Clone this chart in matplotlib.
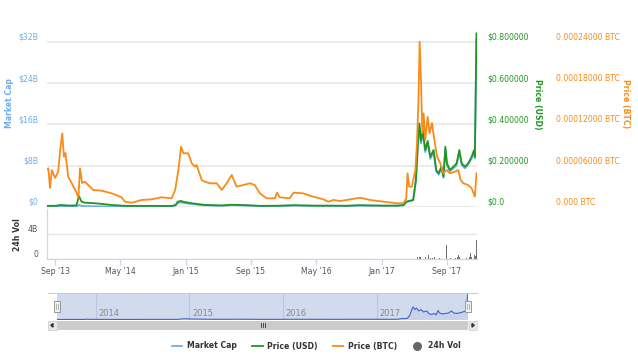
import matplotlib
matplotlib.use("Agg")
import matplotlib.pyplot as plt
from matplotlib.lines import Line2D
from matplotlib.patches import Rectangle, Polygon
import pandas as pd

# ---------------- data ----------------
usd_dates = ['2013-08-04', '2013-09-01', '2013-09-25', '2013-10-20', '2013-11-20', '2013-11-29',
             '2013-12-09', '2013-12-21', '2014-01-29', '2014-03-01', '2014-03-31', '2014-05-20',
             '2014-07-20', '2014-09-01', '2014-11-10', '2014-11-25', '2014-12-03', '2014-12-15',
             '2014-12-25', '2015-01-24', '2015-02-11', '2015-03-14', '2015-05-16', '2015-06-22',
             '2015-08-29', '2015-10-05', '2015-12-08', '2016-02-08', '2016-04-21', '2016-06-16',
             '2016-08-24', '2016-10-13', '2016-11-19', '2017-01-08', '2017-03-01', '2017-03-24',
             '2017-04-04', '2017-04-29', '2017-05-09', '2017-05-17', '2017-05-22', '2017-05-28',
             '2017-06-04', '2017-06-13', '2017-06-22', '2017-07-02', '2017-07-14', '2017-07-24',
             '2017-08-02', '2017-08-12', '2017-08-20', '2017-08-27', '2017-09-02', '2017-09-13',
             '2017-09-26', '2017-10-08', '2017-10-18', '2017-10-27', '2017-11-08', '2017-11-20',
             '2017-12-03', '2017-12-12', '2017-12-15', '2017-12-21']
price_usd = [0.0055, 0.0058, 0.0097, 0.0070, 0.0080, 0.053,
             0.026, 0.021, 0.018, 0.014, 0.0097, 0.0055,
             0.0052, 0.0055, 0.0050, 0.010, 0.026, 0.029,
             0.025, 0.018, 0.015, 0.010, 0.0075, 0.011,
             0.0080, 0.0055, 0.0060, 0.0085, 0.0065, 0.0065,
             0.0060, 0.0085, 0.0075, 0.0065, 0.0065, 0.0090,
             0.026, 0.034, 0.13, 0.32, 0.405, 0.32,
             0.37, 0.276, 0.32, 0.243, 0.276, 0.179,
             0.163, 0.195, 0.147, 0.292, 0.211, 0.179,
             0.195, 0.211, 0.276, 0.211, 0.195, 0.211,
             0.243, 0.276, 0.243, 0.84]
market_cap_b = [0.043, 0.045, 0.076, 0.055, 0.062, 0.41,
                0.20, 0.16, 0.14, 0.11, 0.076, 0.043,
                0.16, 0.17, 0.155, 0.31, 0.80, 0.90,
                0.78, 0.57, 0.47, 0.32, 0.24, 0.35,
                0.26, 0.18, 0.20, 0.29, 0.23, 0.23,
                0.21, 0.30, 0.27, 0.24, 0.24, 0.34,
                0.99, 1.30, 4.98, 12.3, 15.6, 12.3,
                14.2, 10.6, 12.3, 9.3, 10.6, 6.9,
                6.25, 7.5, 5.65, 11.2, 8.1, 6.9,
                7.5, 8.1, 10.6, 8.1, 7.5, 8.2,
                9.4, 10.7, 9.4, 32.5]

btc_dates = ['2013-08-04', '2013-08-07', '2013-08-13', '2013-08-20', '2013-09-01', '2013-09-13',
             '2013-09-20', '2013-09-28', '2013-10-04', '2013-10-10', '2013-10-20', '2013-11-02',
             '2013-11-21', '2013-11-27', '2013-12-03', '2013-12-11', '2013-12-21', '2014-01-03',
             '2014-01-21', '2014-02-22', '2014-03-31', '2014-05-07', '2014-05-20', '2014-06-14',
             '2014-07-21', '2014-08-28', '2014-10-04', '2014-11-10', '2014-11-23', '2014-12-05',
             '2014-12-15', '2014-12-24', '2015-01-11', '2015-01-24', '2015-02-05', '2015-02-11',
             '2015-03-02', '2015-03-14', '2015-04-02', '2015-04-27', '2015-05-16', '2015-06-03',
             '2015-06-22', '2015-07-10', '2015-08-04', '2015-08-29', '2015-09-16', '2015-10-05',
             '2015-10-30', '2015-11-30', '2015-12-08', '2015-12-18', '2016-01-24', '2016-02-08',
             '2016-03-14', '2016-04-21', '2016-05-28', '2016-06-16', '2016-07-05', '2016-07-30',
             '2016-08-24', '2016-10-13', '2016-11-19', '2017-01-08', '2017-02-27', '2017-03-24',
             '2017-04-03', '2017-04-08', '2017-04-14', '2017-04-24', '2017-05-07', '2017-05-13',
             '2017-05-19', '2017-05-23', '2017-05-28', '2017-06-02', '2017-06-07', '2017-06-13',
             '2017-06-22', '2017-06-29', '2017-07-08', '2017-07-17', '2017-07-27', '2017-08-08',
             '2017-08-20', '2017-09-01', '2017-09-13', '2017-10-02', '2017-10-14', '2017-10-23',
             '2017-11-02', '2017-11-20', '2017-12-03', '2017-12-15', '2017-12-21']
price_btc = [5.5e-5, 5.62e-5, 2.76e-5, 5.37e-5, 4.21e-5, 5.13e-5,
             8.28e-5, 1.07e-4, 7.30e-5, 7.84e-5, 4.40e-5, 3.48e-5,
             2.03e-5, 1.31e-5, 5.62e-5, 3.48e-5, 3.67e-5, 3.19e-5,
             2.47e-5, 2.37e-5, 1.99e-5, 1.41e-5, 7.7e-6, 6.2e-6,
             1.02e-5, 1.12e-5, 1.41e-5, 1.26e-5, 2.47e-5, 5.37e-5,
             8.76e-5, 7.80e-5, 7.80e-5, 6.35e-5, 5.85e-5, 6.10e-5,
             3.92e-5, 3.67e-5, 3.44e-5, 3.44e-5, 2.47e-5, 3.44e-5,
             4.65e-5, 2.95e-5, 3.19e-5, 3.44e-5, 3.19e-5, 1.99e-5,
             1.26e-5, 1.26e-5, 2.08e-5, 1.41e-5, 1.26e-5, 2.08e-5,
             1.99e-5, 1.50e-5, 1.12e-5, 7.7e-6, 1.02e-5, 8.7e-6,
             1.02e-5, 1.35e-5, 1.02e-5, 7.7e-6, 5.4e-6, 5.4e-6,
             1.26e-5, 4.89e-5, 2.95e-5, 2.95e-5, 5.37e-5, 9.25e-5,
             1.60e-4, 2.40e-4, 1.84e-4, 1.07e-4, 1.36e-4, 9.73e-5,
             1.31e-4, 1.07e-4, 1.22e-4, 9.73e-5, 7.30e-5, 6.35e-5,
             4.89e-5, 5.37e-5, 4.89e-5, 5.13e-5, 5.37e-5, 3.92e-5,
             3.44e-5, 3.19e-5, 2.72e-5, 1.50e-5, 4.89e-5]

vol_dates = ['2017-04-03', '2017-04-10', '2017-04-24', '2017-05-10', '2017-05-16', '2017-05-22',
             '2017-05-27', '2017-06-01', '2017-06-08', '2017-06-15', '2017-06-24', '2017-07-02',
             '2017-07-10', '2017-07-18', '2017-07-27', '2017-08-05', '2017-08-15', '2017-08-26',
             '2017-09-01', '2017-09-06', '2017-09-14', '2017-09-24', '2017-10-04', '2017-10-10',
             '2017-10-14', '2017-10-18', '2017-10-24', '2017-11-05', '2017-11-15', '2017-11-25',
             '2017-11-29', '2017-12-03', '2017-12-08', '2017-12-13', '2017-12-18', '2017-12-21']
vol_b = [0.05, 0.08, 0.06, 0.15, 0.35, 0.25,
         0.30, 0.45, 0.20, 0.25, 0.60, 0.20,
         0.15, 0.25, 0.10, 0.12, 0.20, 0.35,
         2.20, 0.35, 0.20, 0.10, 0.15, 0.30,
         0.60, 0.40, 0.60, 0.15, 0.20, 0.30,
         0.90, 0.35, 0.25, 0.60, 0.50, 3.00]

cap_ticks = [0, 8, 16, 24, 32]
cap_labels = ['$0', '$8B', '$16B', '$24B', '$32B']
usd_ticks = [0, 0.2, 0.4, 0.6, 0.8]
usd_labels = ['$0.0', '$0.200000', '$0.400000', '$0.600000', '$0.800000']
btc_ticks = [0, 0.00006, 0.00012, 0.00018, 0.00024]
btc_labels = ['0.000 BTC', '0.00006000 BTC', '0.00012000 BTC', '0.00018000 BTC', '0.00024000 BTC']
vol_ticks = [0, 4]
vol_labels = ['0', '4B']
x_tick_dates = ['2013-09-01', '2014-05-01', '2015-01-01', '2015-09-01', '2016-05-01', '2017-01-01', '2017-09-01']
x_tick_labels = ["Sep '13", "May '14", "Jan '15", "Sep '15", "May '16", "Jan '17", "Sep '17"]
nav_years = [2014, 2015, 2016, 2017]

# ---------------- style ----------------
C_CAP = '#6fadec'
C_USD = '#1f961f'
C_BTC = '#f98b1a'
C_VOL = '#6f6f6f'
C_GRID = '#e6e6e6'
C_AXIS = '#ccd6eb'
FS = 5.6

plt.rcParams['font.family'] = ['DejaVu Sans']

W, H = 638, 358
fig = plt.figure(figsize=(W / 100, H / 100), dpi=100)


def px(l, t, r, b):
    return [l / W, 1 - b / H, (r - l) / W, (b - t) / H]


ud = pd.to_datetime(usd_dates)
bd = pd.to_datetime(btc_dates)
vd = pd.to_datetime(vol_dates)
xlim = (pd.Timestamp('2013-08-02'), pd.Timestamp('2017-12-23'))
ktop = (207 - 31) / 165.3

# ---------- main panel ----------
ax = fig.add_axes(px(47, 31, 477, 207))
ax2 = ax.twinx()
ax3 = ax.twinx()
for a in (ax, ax2, ax3):
    for s in a.spines.values():
        s.set_visible(False)
    a.set_xlim(*xlim)
    a.tick_params(axis='x', bottom=False, labelbottom=False)
ax.set_ylim(0, 32 * ktop)
ax2.set_ylim(0, 0.8 * ktop)
ax3.set_ylim(0, 0.00024 * ktop)
ax.set_yticks(cap_ticks, cap_labels)
ax2.set_yticks(usd_ticks, usd_labels)
ax3.set_yticks(btc_ticks, btc_labels)
ax.yaxis.grid(True, color=C_GRID, lw=1.1)
ax.set_axisbelow(True)
ax.tick_params(axis='y', length=0, pad=6.5, labelsize=FS, labelcolor=C_CAP)
ax2.tick_params(axis='y', length=0, pad=7.2, labelsize=FS, labelcolor=C_USD)
ax3.spines['right'].set_position(('outward', 56))
ax3.tick_params(axis='y', length=0, pad=0.8, labelsize=FS, labelcolor=C_BTC)
for a in (ax, ax2, ax3):
    for lbl in a.get_yticklabels():
        lbl.set_va('bottom')

ax.plot(ud, market_cap_b, color=C_CAP, lw=1.3, solid_joinstyle='round')
ax2.plot(ud, price_usd, color=C_USD, lw=1.3, solid_joinstyle='round')
ax3.plot(bd, price_btc, color=C_BTC, lw=1.3, solid_joinstyle='round')

fig.text(10 / W, 1 - 103 / H, 'Market Cap', rotation=90, color=C_CAP, fontsize=FS,
         fontweight='bold', ha='center', va='center')
fig.text(537 / W, 1 - 104 / H, 'Price (USD)', rotation=270, color=C_USD, fontsize=FS,
         fontweight='bold', ha='center', va='center')
fig.text(625 / W, 1 - 104 / H, 'Price (BTC)', rotation=270, color=C_BTC, fontsize=FS,
         fontweight='bold', ha='center', va='center')

# ---------- volume panel ----------
vax = fig.add_axes(px(47, 209, 477, 259))
vax.set_facecolor('none')
vax.bar(vd, vol_b, width=2.6, color=C_VOL, linewidth=0)
vax.set_xlim(*xlim)
vax.set_ylim(0, 8.1)
vax.set_yticks(vol_ticks, vol_labels)
vax.yaxis.grid(True, color=C_GRID, lw=1.0)
vax.set_axisbelow(True)
for s in ('top', 'right'):
    vax.spines[s].set_visible(False)
for s in ('left', 'bottom'):
    vax.spines[s].set_color(C_AXIS)
    vax.spines[s].set_linewidth(0.9)
vax.tick_params(axis='y', length=0, pad=6.5, labelsize=FS, labelcolor='#555555')
for lbl in vax.get_yticklabels():
    lbl.set_va('bottom')
vax.set_xticks(pd.to_datetime(x_tick_dates), x_tick_labels)
vax.tick_params(axis='x', length=4, width=0.9, color=C_AXIS, pad=1.5, labelsize=FS,
                labelcolor='#555555')
fig.text(17 / W, 1 - 235 / H, '24h Vol', rotation=90, color='#333333', fontsize=FS,
         fontweight='bold', ha='center', va='center')

# ---------- navigator ----------
nav = fig.add_axes(px(56.5, 293, 468, 319.5))
nav.set_facecolor('#d2daee')
for s in nav.spines.values():
    s.set_visible(False)
nav.set_xlim(pd.Timestamp('2013-08-01'), pd.Timestamp('2017-12-22'))
nav.set_ylim(0, 32.8)
nav.set_xticks([])
nav.set_yticks([])
for yr in nav_years:
    d = pd.Timestamp(f'{yr}-01-01')
    nav.axvline(d, color='#bcc5de', lw=0.8, zorder=0)
    nav.annotate(str(yr), xy=(d, 0), xycoords=('data', 'axes fraction'), xytext=(1.8, 1.2),
                 textcoords='offset points', ha='left', va='bottom', fontsize=FS + 0.4,
                 color='#888888')
nav.fill_between(ud, market_cap_b, color='#335cad', alpha=0.06, lw=0)
nav.plot(ud, market_cap_b, color='#4066c0', lw=0.8)


def fline(x0, y0, x1, y1, **kw):
    fig.add_artist(Line2D([x0 / W, x1 / W], [1 - y0 / H, 1 - y1 / H], transform=fig.transFigure, **kw))


fline(48, 293, 477, 293, color='#cccccc', lw=0.8)
for hx in (57, 468):
    fig.add_artist(Rectangle(((hx - 2.8) / W, 1 - 312 / H), 5.6 / W, 11 / H, transform=fig.transFigure,
                             facecolor='#f2f2f2', edgecolor='#999999', lw=0.7))
    fline(hx - 0.8, 304, hx - 0.8, 309, color='#999999', lw=0.5)
    fline(hx + 0.8, 304, hx + 0.8, 309, color='#999999', lw=0.5)

# scrollbar
fig.add_artist(Rectangle((48 / W, 1 - 329.5 / H), 429 / W, 8.5 / H, transform=fig.transFigure,
                         facecolor='#f2f2f2', edgecolor='none'))
fig.add_artist(Rectangle((56.5 / W, 1 - 329.5 / H), 411.5 / W, 8.5 / H, transform=fig.transFigure,
                         facecolor='#cccccc', edgecolor='none'))
for bx in (48, 468.5):
    fig.add_artist(Rectangle((bx / W, 1 - 329.5 / H), 8.5 / W, 8.5 / H, transform=fig.transFigure,
                             facecolor='#e6e6e6', edgecolor='#cccccc', lw=0.5))
fig.add_artist(Polygon([[50.8 / W, 1 - 325.3 / H], [53 / W, 1 - 323.5 / H], [53 / W, 1 - 327.1 / H]],
                       closed=True, transform=fig.transFigure, color='#333333'))
fig.add_artist(Polygon([[474.2 / W, 1 - 325.3 / H], [472 / W, 1 - 323.5 / H], [472 / W, 1 - 327.1 / H]],
                       closed=True, transform=fig.transFigure, color='#333333'))
for gx in (261, 262.8, 264.6):
    fline(gx, 323.3, gx, 327.3, color='#333333', lw=0.6)

# ---------- legend ----------
handles = [Line2D([], [], color=C_CAP, lw=1.3),
           Line2D([], [], color=C_USD, lw=1.3),
           Line2D([], [], color=C_BTC, lw=1.3),
           Line2D([], [], color='#666666', lw=0, marker='o', markersize=5.5)]
labels = ['Market Cap', 'Price (USD)', 'Price (BTC)', '24h Vol']
fig.legend(handles, labels, loc='center', bbox_to_anchor=(316 / W, 1 - 346 / H), ncol=4,
           frameon=False, handlelength=1.4, handletextpad=0.6, columnspacing=1.9,
           prop={'size': FS, 'weight': 'bold'}, labelcolor='#333333')

fig.savefig('out.png', dpi=100)
